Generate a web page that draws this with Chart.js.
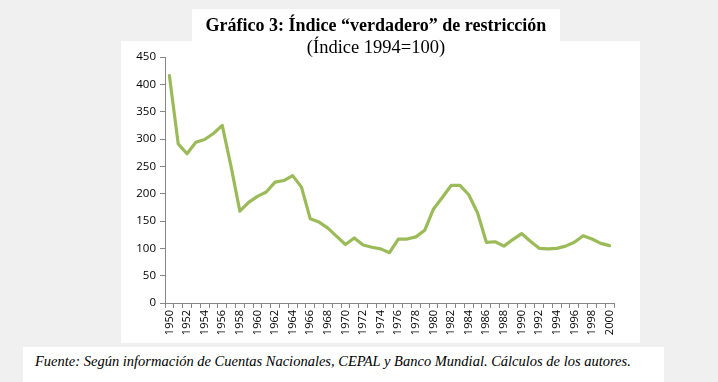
<!DOCTYPE html>
<html><head><meta charset="utf-8">
<script src="https://cdn.jsdelivr.net/npm/chart.js@4"></script>
<style>
html,body{margin:0;padding:0;width:718px;height:382px;overflow:hidden;background:#f0f0f0;}
.box{position:absolute;background:#fff;}
#titlebox{left:192px;top:9px;width:368px;height:40px;}
#chartbox{left:121px;top:41px;width:519px;height:302px;}
#footbox{left:23px;top:347px;width:641px;height:35px;}
.t{position:absolute;white-space:nowrap;font-family:"Liberation Serif","Times New Roman",serif;color:#000;line-height:20px;}
</style></head><body>
<div class="box" id="chartbox"><canvas id="c" width="519" height="302"></canvas></div>
<div class="box" id="titlebox"></div>
<div class="box" id="footbox"></div>
<div class="t" style="left:0;width:752px;top:15px;text-align:center;font-weight:bold;font-size:18px;">Gráfico 3: Índice “verdadero” de restricción</div>
<div class="t" style="left:0;width:752px;top:37px;text-align:center;font-size:18.5px;">(Índice 1994=100)</div>
<div class="t" style="left:35px;top:351px;font-style:italic;font-size:14.5px;">Fuente: Según información de Cuentas Nacionales, CEPAL y Banco Mundial. Cálculos de los autores.</div>
<script>
const years = ["1950","1951","1952","1953","1954","1955","1956","1957","1958","1959",
"1960","1961","1962","1963","1964","1965","1966","1967","1968","1969",
"1970","1971","1972","1973","1974","1975","1976","1977","1978","1979",
"1980","1981","1982","1983","1984","1985","1986","1987","1988","1989",
"1990","1991","1992","1993","1994","1995","1996","1997","1998","1999","2000"];
const indexValues = [416,291,273,294,299,310,325,250,168,184,
195,203,221,224,233,212,154,148,137,122,
107,119,106,102,99,92,117,117,121,133,
172,193,215,215,198,165,111,112,104,116,
127,113,100,99,100,104,111,123,117,109,105];
const yTicks = [0,50,100,150,200,250,300,350,400,450];

const axisColor = '#868686';
new Chart(document.getElementById('c'), {
  type: 'line',
  data: { labels: years, datasets: [{
    data: indexValues, borderColor: '#9BBB59', borderWidth: 3.2,
    pointRadius: 0, tension: 0, borderJoinStyle: 'round', borderCapStyle: 'round', fill: false
  }]},
  options: {
    responsive: false, animation: false, devicePixelRatio: 1,
    layout: { padding: { top: 16, right: 26, bottom: 0, left: 0 } },
    plugins: { legend: { display: false }, tooltip: { enabled: false }, title: { display: false } },
    scales: {
      x: {
        offset: true,
        grid: { offset: true, drawOnChartArea: false, drawTicks: true, tickLength: 5, color: axisColor },
        border: { display: true, color: axisColor, width: 1 },
        ticks: {
          autoSkip: false, minRotation: 90, maxRotation: 90, padding: 2,
          color: '#000', font: { family: '"Open Sans"', size: 11 },
          callback: function(v, i) { return (i % 2 === 0) ? years[i] : ''; }
        },
        afterFit: function(s) { s.height = 40; }
      },
      y: {
        min: 0, max: 450,
        afterBuildTicks: function(s) { s.ticks = yTicks.map(v => ({ value: v })); },
        grid: { drawOnChartArea: false, drawTicks: true, tickLength: 5, color: axisColor },
        border: { display: true, color: axisColor, width: 1 },
        ticks: { color: '#000', padding: 4, font: { family: '"Open Sans"', size: 11.5 } },
        afterFit: function(s) { s.width = 44; }
      }
    }
  }
});
</script>
</body></html>
